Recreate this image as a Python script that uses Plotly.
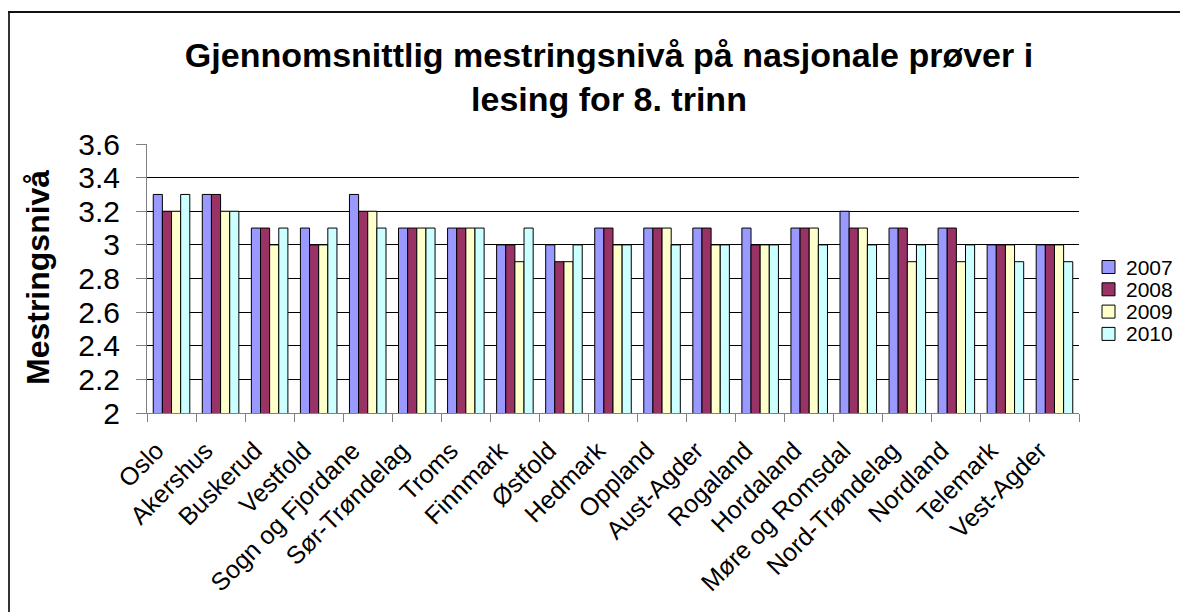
import plotly.graph_objects as go

fylker = ["Oslo", "Akershus", "Buskerud", "Vestfold", "Sogn og Fjordane",
          "Sør-Trøndelag", "Troms", "Finnmark", "Østfold", "Hedmark",
          "Oppland", "Aust-Agder", "Rogaland", "Hordaland", "Møre og Romsdal",
          "Nord-Trøndelag", "Nordland", "Telemark", "Vest-Agder"]

niva_2007 = [3.3, 3.3, 3.1, 3.1, 3.3, 3.1, 3.1, 3.0, 3.0, 3.1,
             3.1, 3.1, 3.1, 3.1, 3.2, 3.1, 3.1, 3.0, 3.0]
niva_2008 = [3.2, 3.3, 3.1, 3.0, 3.2, 3.1, 3.1, 3.0, 2.9, 3.1,
             3.1, 3.1, 3.0, 3.1, 3.1, 3.1, 3.1, 3.0, 3.0]
niva_2009 = [3.2, 3.2, 3.0, 3.0, 3.2, 3.1, 3.1, 2.9, 2.9, 3.0,
             3.1, 3.0, 3.0, 3.1, 3.1, 2.9, 2.9, 3.0, 3.0]
niva_2010 = [3.3, 3.2, 3.1, 3.1, 3.1, 3.1, 3.1, 3.1, 3.0, 3.0,
             3.0, 3.0, 3.0, 3.0, 3.0, 3.0, 3.0, 2.9, 2.9]

serier = [("2007", niva_2007, "#9999FF"),
          ("2008", niva_2008, "#993366"),
          ("2009", niva_2009, "#FFFFCC"),
          ("2010", niva_2010, "#CCFFFF")]

FONT = "Liberation Sans, Arial, sans-serif"

fig = go.Figure()
for navn, verdier, farge in serier:
    fig.add_trace(go.Bar(
        x=fylker, y=verdier, name=navn, showlegend=False,
        marker=dict(color=farge, line=dict(color="#000000", width=1)),
    ))

# the page has an 8px body margin, so the figure is 1180x604 at (8, 8)
OFF = 8
W, H = 1180, 604
L, T = 147 - OFF, 144 - OFF          # plot area 147..1079 x 144..413 on the page
pw, ph = 932, 269
R, B = W - L - pw, H - T - ph


def px(x):
    return (x - OFF - L) / pw


def py(y):
    return (H - B - (y - OFF)) / ph


# legend drawn by hand so the rows sit as close as in the original
legend_shapes = []
legend_notes = []
for i, (navn, _, farge) in enumerate(serier):
    yc = 267 + 22.3 * i
    legend_shapes.append(dict(
        type="rect", xref="paper", yref="paper",
        x0=px(1102), x1=px(1115), y0=py(yc - 6.5), y1=py(yc + 6.5),
        fillcolor=farge, line=dict(color="#000000", width=1),
    ))
    legend_notes.append(dict(
        text=navn, x=px(1124), y=py(yc), xref="paper", yref="paper",
        xanchor="left", yanchor="middle", showarrow=False,
        font=dict(size=21, family=FONT, color="black"),
    ))

fig.update_layout(
    width=W, height=H,
    margin=dict(l=L, r=R, t=T, b=B),
    paper_bgcolor="white", plot_bgcolor="white",
    font=dict(family=FONT, color="black"),
    barmode="group", bargap=0.255, bargroupgap=0,
    showlegend=False,
    title=dict(
        text="<b>Gjennomsnittlig mestringsnivå på nasjonale prøver i<br>lesing for 8. trinn</b>",
        x=(609 - OFF) / W, xanchor="center", xref="container",
        y=1 - (67 - OFF) / H, yanchor="top", yref="container",
        font=dict(size=34, family=FONT, color="black"),
    ),
    xaxis=dict(
        type="category", tickson="boundaries", ticks="outside", ticklen=8,
        tickcolor="#808080", showline=True, linecolor="#808080", linewidth=1,
        tickangle=-45, tickfont=dict(size=25, family=FONT), showgrid=False,
        ticklabelshift=-15, ticklabelstandoff=12,
    ),
    yaxis=dict(
        range=[2, 3.6], dtick=0.2, ticks="outside", ticklen=10,
        tickcolor="#808080", showline=True, linecolor="#808080", linewidth=1,
        showgrid=True, gridcolor="#000000", gridwidth=1,
        tickfont=dict(size=30, family=FONT), zeroline=False,
        ticklabelstandoff=10,
    ),
    annotations=[dict(
        text="<b>Mestringsnivå</b>", textangle=-90,
        x=px(38), y=py(278), xref="paper", yref="paper",
        xanchor="center", yanchor="middle", showarrow=False,
        font=dict(size=32, family=FONT, color="black"),
    )] + legend_notes,
    shapes=[
        dict(type="line", xref="paper", yref="paper",
             x0=px(9), x1=px(9), y0=py(12), y1=py(640),
             line=dict(color="#333333", width=2)),
        dict(type="line", xref="paper", yref="paper",
             x0=px(8), x1=px(1200), y0=py(12), y1=py(12),
             line=dict(color="#111111", width=2)),
    ] + legend_shapes,
)

fig.write_html("out.html")
